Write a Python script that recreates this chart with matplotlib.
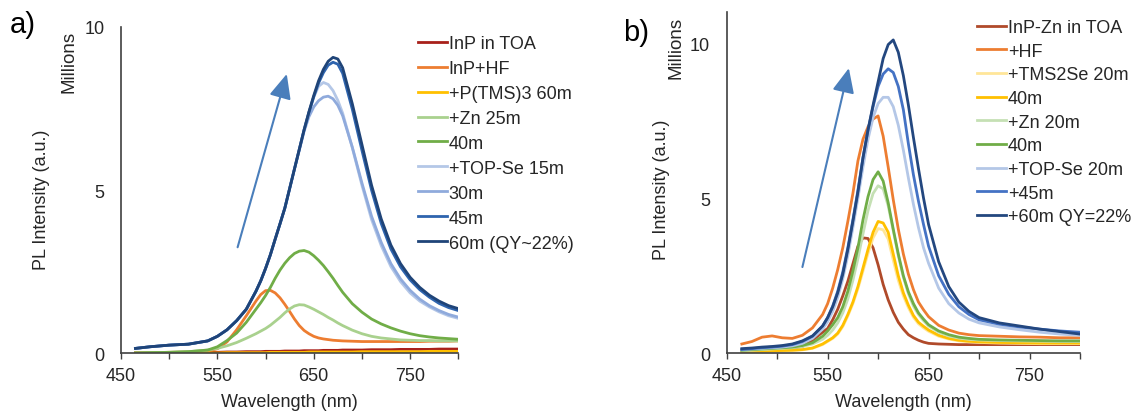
import matplotlib

matplotlib.use("Agg")

import matplotlib.pyplot as plt

plt.rcParams["font.family"] = ["Liberation Sans", "DejaVu Sans"]

# ---- panel a data (PL spectra, intensity in millions) ----
wl_a = [465, 480, 500, 520, 540, 550, 560, 570, 580, 590, 595, 600, 605, 610, 615, 620, 625, 630, 635, 640,
        645, 650, 655, 660, 665, 670, 675, 680, 690, 700, 710, 720, 730, 740, 750, 760, 770, 780, 790, 800]

inp_toa_a = [0.0, 0.01, 0.02, 0.02, 0.03, 0.03, 0.04, 0.04, 0.05, 0.05, 0.05, 0.06, 0.06, 0.06, 0.06, 0.07, 0.07,
             0.07, 0.07, 0.08, 0.08, 0.08, 0.08, 0.09, 0.09, 0.09, 0.09, 0.1, 0.1, 0.1, 0.11, 0.11, 0.11, 0.12,
             0.12, 0.12, 0.12, 0.13, 0.13, 0.13]
inp_hf_a = [0.02, 0.02, 0.03, 0.04, 0.07, 0.14, 0.35, 0.72, 1.15, 1.6, 1.8, 1.92, 1.93, 1.85, 1.7, 1.5, 1.28, 1.05,
            0.85, 0.7, 0.6, 0.52, 0.47, 0.44, 0.42, 0.4, 0.39, 0.38, 0.37, 0.36, 0.36, 0.36, 0.36, 0.36, 0.36,
            0.36, 0.37, 0.37, 0.37, 0.38]
ptms_60_a = [0.0, 0.0, 0.01, 0.01, 0.01, 0.01, 0.02, 0.02, 0.02, 0.02, 0.02, 0.02, 0.03, 0.03, 0.03, 0.03, 0.03,
             0.03, 0.03, 0.03, 0.04, 0.04, 0.04, 0.04, 0.04, 0.04, 0.04, 0.04, 0.04, 0.05, 0.05, 0.05, 0.05, 0.05,
             0.05, 0.05, 0.06, 0.06, 0.06, 0.06]
zn_25_a = [0.01, 0.02, 0.03, 0.05, 0.1, 0.15, 0.23, 0.33, 0.46, 0.6, 0.68, 0.76, 0.86, 0.98, 1.1, 1.24, 1.36, 1.45,
           1.49, 1.48, 1.42, 1.35, 1.27, 1.19, 1.1, 1.02, 0.93, 0.85, 0.71, 0.6, 0.52, 0.47, 0.44, 0.41, 0.4,
           0.39, 0.39, 0.38, 0.38, 0.38]
zn_40_a = [0.01, 0.02, 0.03, 0.05, 0.1, 0.2, 0.39, 0.62, 0.95, 1.35, 1.55, 1.77, 2.02, 2.3, 2.55, 2.76, 2.93, 3.06,
           3.13, 3.15, 3.1, 2.99, 2.85, 2.69, 2.5, 2.3, 2.08, 1.87, 1.52, 1.26, 1.05, 0.9, 0.78, 0.68, 0.6, 0.54,
           0.5, 0.47, 0.45, 0.43]
se_15_a = [0.15, 0.2, 0.25, 0.28, 0.38, 0.52, 0.72, 1.0, 1.35, 1.9, 2.22, 2.6, 3.02, 3.5, 3.97, 4.45, 5.05, 5.65,
           6.25, 6.85, 7.38, 7.85, 8.18, 8.3, 8.24, 8.05, 7.75, 7.36, 6.3, 5.15, 4.1, 3.3, 2.66, 2.2, 1.85, 1.6,
           1.42, 1.27, 1.15, 1.07]
se_30_a = [0.15, 0.2, 0.25, 0.28, 0.38, 0.52, 0.72, 1.0, 1.35, 1.9, 2.22, 2.6, 3.02, 3.5, 3.97, 4.45, 5.05, 5.65,
           6.22, 6.8, 7.25, 7.55, 7.74, 7.85, 7.88, 7.8, 7.6, 7.28, 6.32, 5.22, 4.2, 3.4, 2.75, 2.28, 1.93, 1.66,
           1.46, 1.31, 1.19, 1.11]
se_45_a = [0.15, 0.2, 0.25, 0.28, 0.38, 0.52, 0.72, 1.0, 1.35, 1.9, 2.22, 2.6, 3.02, 3.5, 3.97, 4.45, 5.05, 5.65,
           6.25, 6.85, 7.38, 7.86, 8.28, 8.6, 8.83, 8.92, 8.86, 8.58, 7.48, 6.22, 5.0, 3.98, 3.2, 2.65, 2.25,
           1.95, 1.72, 1.53, 1.4, 1.31]
se_60_a = [0.15, 0.2, 0.25, 0.28, 0.38, 0.52, 0.72, 1.0, 1.35, 1.9, 2.22, 2.6, 3.02, 3.5, 3.97, 4.45, 5.05, 5.65,
           6.25, 6.85, 7.4, 7.9, 8.35, 8.7, 8.95, 9.07, 9.02, 8.75, 7.65, 6.4, 5.15, 4.12, 3.32, 2.75, 2.33, 2.02,
           1.78, 1.6, 1.46, 1.37]

labels_a = ["InP in TOA", "InP+HF", "+P(TMS)3 60m", "+Zn 25m", "40m", "+TOP-Se 15m", "30m", "45m",
            "60m (QY~22%)"]
colors_a = ["#A8201A", "#ED7D31", "#FFC000", "#A9D18E", "#70AD47", "#B4C7E7", "#8FAADC", "#2E64AE", "#1F4478"]
series_a = [inp_toa_a, inp_hf_a, ptms_60_a, zn_25_a, zn_40_a, se_15_a, se_30_a, se_45_a, se_60_a]

# ---- panel b data ----
wl_b = [465, 475, 485, 495, 505, 515, 525, 535, 545, 550, 555, 560, 565, 570, 575, 580, 585, 590, 595, 600,
        605, 610, 615, 620, 625, 630, 635, 640, 645, 650, 660, 670, 680, 690, 700, 720, 740, 760, 780, 800]

inpzn_toa_b = [0.1, 0.11, 0.12, 0.13, 0.14, 0.16, 0.22, 0.42, 0.68, 0.8, 1.08, 1.42, 1.85, 2.32, 2.88, 3.45, 3.72,
               3.7, 3.4, 2.85, 2.22, 1.72, 1.32, 1.0, 0.78, 0.6, 0.5, 0.42, 0.36, 0.32, 0.3, 0.29, 0.28, 0.28,
               0.28, 0.28, 0.28, 0.28, 0.28, 0.28]
hf_b = [0.3, 0.38, 0.52, 0.56, 0.5, 0.48, 0.58, 0.82, 1.25, 1.6, 2.1, 2.7, 3.4, 4.25, 5.15, 6.2, 6.9, 7.3, 7.55,
        7.65, 7.0, 6.0, 4.95, 4.0, 3.2, 2.55, 2.05, 1.65, 1.4, 1.18, 0.9, 0.75, 0.65, 0.6, 0.57, 0.55, 0.53,
        0.52, 0.5, 0.5]
tms2se_20_b = [0.04, 0.05, 0.06, 0.07, 0.08, 0.09, 0.11, 0.16, 0.28, 0.38, 0.48, 0.62, 0.86, 1.2, 1.6, 2.08, 2.65,
               3.22, 3.72, 4.02, 3.98, 3.68, 3.0, 2.35, 1.85, 1.47, 1.16, 0.95, 0.82, 0.71, 0.55, 0.46, 0.4, 0.37,
               0.35, 0.33, 0.32, 0.31, 0.31, 0.31]
tms2se_40_b = [0.05, 0.06, 0.07, 0.08, 0.09, 0.1, 0.12, 0.17, 0.3, 0.4, 0.5, 0.65, 0.9, 1.25, 1.65, 2.15, 2.75,
               3.35, 3.9, 4.25, 4.2, 3.9, 3.2, 2.5, 1.95, 1.55, 1.22, 1.0, 0.87, 0.75, 0.58, 0.48, 0.42, 0.39,
               0.37, 0.35, 0.34, 0.33, 0.33, 0.33]
zn_20_b = [0.08, 0.1, 0.12, 0.14, 0.16, 0.18, 0.22, 0.3, 0.45, 0.58, 0.75, 0.98, 1.3, 1.75, 2.35, 3.05, 3.85, 4.6,
           5.15, 5.4, 5.3, 4.75, 3.95, 3.15, 2.45, 1.92, 1.52, 1.25, 1.05, 0.88, 0.68, 0.56, 0.49, 0.45, 0.43,
           0.41, 0.4, 0.39, 0.38, 0.38]
zn_40_b = [0.1, 0.12, 0.14, 0.16, 0.18, 0.2, 0.25, 0.34, 0.55, 0.72, 0.92, 1.15, 1.5, 2.0, 2.65, 3.4, 4.3, 5.05,
           5.6, 5.85, 5.55, 4.85, 4.0, 3.2, 2.5, 1.98, 1.6, 1.3, 1.1, 0.92, 0.72, 0.6, 0.52, 0.48, 0.45, 0.43,
           0.42, 0.41, 0.4, 0.4]
se_20_b = [0.12, 0.14, 0.16, 0.18, 0.2, 0.24, 0.32, 0.48, 0.78, 1.02, 1.35, 1.8, 2.4, 3.15, 4.05, 5.0, 6.0, 6.9,
           7.6, 8.05, 8.25, 8.25, 7.95, 7.35, 6.55, 5.65, 4.8, 4.05, 3.4, 2.9, 2.1, 1.6, 1.3, 1.1, 0.98, 0.85,
           0.76, 0.68, 0.62, 0.58]
se_45_b = [0.12, 0.15, 0.18, 0.2, 0.23, 0.28, 0.38, 0.55, 0.88, 1.15, 1.52, 2.0, 2.62, 3.4, 4.3, 5.25, 6.3, 7.2,
           7.95, 8.6, 9.0, 9.17, 9.05, 8.6, 7.85, 6.75, 5.75, 4.9, 4.15, 3.45, 2.5, 1.9, 1.5, 1.25, 1.08, 0.94,
           0.85, 0.78, 0.72, 0.68]
se_60_b = [0.15, 0.17, 0.2, 0.22, 0.25, 0.3, 0.4, 0.56, 0.88, 1.15, 1.5, 1.95, 2.55, 3.35, 4.25, 5.2, 6.3, 7.2,
           8.0, 8.75, 9.5, 9.95, 10.1, 9.7, 8.95, 8.0, 6.95, 5.95, 5.0, 4.15, 2.95, 2.15, 1.65, 1.35, 1.15, 0.98,
           0.88, 0.78, 0.7, 0.62]

labels_b = ["InP-Zn in TOA", "+HF", "+TMS2Se 20m", "40m", "+Zn 20m", "40m", "+TOP-Se 20m", "+45m",
            "+60m QY=22%"]
colors_b = ["#B04A2A", "#ED7D31", "#FFE699", "#FFC000", "#C5E0B4", "#70AD47", "#B4C7E7", "#4472C4", "#23477F"]
series_b = [inpzn_toa_b, hf_b, tms2se_20_b, tms2se_40_b, zn_20_b, zn_40_b, se_20_b, se_45_b, se_60_b]

# arrows (tail, head) in data coordinates
arrow_a = [(571, 3.25), (622, 8.56)]
arrow_b = [(525, 2.78), (571, 9.19)]

W, H = 1135, 414
fig = plt.figure(figsize=(W / 100, H / 100), dpi=100)

axis_color = "#404040"
text_color = "#262626"
arrow_color = "#4A7EBB"


def style_axes(ax, ymax):
    ax.set_xlim(450, 800)
    ax.set_ylim(0, ymax)
    for side in ("top", "right"):
        ax.spines[side].set_visible(False)
    for side in ("left", "bottom"):
        ax.spines[side].set_color(axis_color)
        ax.spines[side].set_linewidth(1.2)
    ax.set_xticks(range(450, 801, 50))
    ax.set_xticklabels(["450", "", "550", "", "650", "", "750", ""])
    ax.set_yticks([0, 5, 10])
    ax.tick_params(axis="x", direction="out", length=4, width=1.0, color=axis_color, pad=6,
                   labelsize=13, labelcolor=text_color)
    ax.tick_params(axis="y", length=0, pad=12, labelsize=13, labelcolor=text_color)
    ax.set_xlabel("Wavelength (nm)", fontsize=13, color=text_color, labelpad=6)


def draw_panel(ax, wl, series, colors, labels, arrow):
    lines = []
    for ys, c, lab in zip(series, colors, labels):
        (ln,) = ax.plot(wl, ys, color=c, lw=2.0, label=lab, solid_joinstyle="round")
        lines.append(ln)
    (x0, y0), (x1, y1) = arrow
    ax.annotate("", xy=(x1, y1), xytext=(x0, y0),
                arrowprops=dict(arrowstyle="-|>,head_length=0.6,head_width=0.27", color=arrow_color,
                                lw=1.5, mutation_scale=25, shrinkA=0, shrinkB=0))
    return lines


# panel a
ax_a = fig.add_axes([121 / W, 1 - 354.3 / H, (458.3 - 121) / W, (354.3 - 28) / H])
style_axes(ax_a, 10)
lines_a = draw_panel(ax_a, wl_a, series_a, colors_a, labels_a, arrow_a)

# panel b
ax_b = fig.add_axes([726.7 / W, 1 - 354.3 / H, (1080 - 726.7) / W, (354.3 - 13) / H])
style_axes(ax_b, 11)
lines_b = draw_panel(ax_b, wl_b, series_b, colors_b, labels_b, arrow_b)

legend_kw = dict(loc="upper left", frameon=False, fontsize=13, borderpad=0, borderaxespad=0,
                 handlelength=1.6, handletextpad=0.1, labelcolor=text_color)
fig.legend(handles=lines_a, bbox_transform=fig.transFigure, bbox_to_anchor=(418 / W, 1 - 36 / H),
           labelspacing=0.44, **legend_kw)
fig.legend(handles=lines_b, bbox_transform=fig.transFigure, bbox_to_anchor=(977 / W, 1 - 20 / H),
           labelspacing=0.37, **legend_kw)

# axis titles and panel letters
fig.text(42 / W, 1 - 200 / H, "PL Intensity (a.u.)", rotation=90, ha="center", va="center",
         fontsize=13, color=text_color)
fig.text(69 / W, 1 - 62 / H, "Millions", rotation=90, ha="center", va="center", fontsize=13.5,
         color=text_color)
fig.text(662 / W, 1 - 190 / H, "PL Intensity (a.u.)", rotation=90, ha="center", va="center",
         fontsize=13, color=text_color)
fig.text(676 / W, 1 - 48 / H, "Millions", rotation=90, ha="center", va="center", fontsize=13.5,
         color=text_color)
fig.text(23 / W, 1 - 25 / H, "a)", ha="center", va="center", fontsize=21, color="black")
fig.text(636 / W, 1 - 33 / H, "b)", ha="center", va="center", fontsize=21, color="black")

fig.savefig("out.png", dpi=100)
